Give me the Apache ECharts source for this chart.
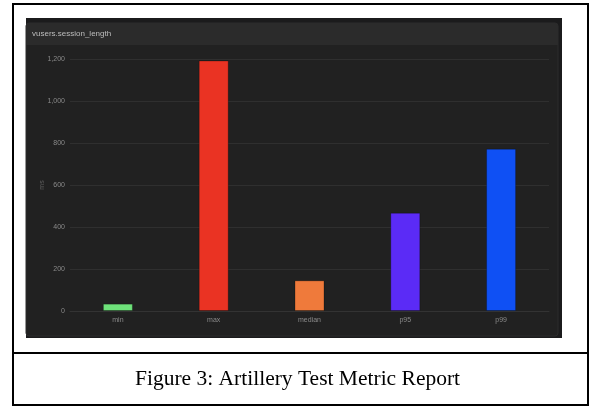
<!DOCTYPE html>
<html>
<head>
<meta charset="utf-8">
<script src="https://cdn.jsdelivr.net/npm/echarts@6/dist/echarts.min.js"></script>
<style>
  html, body { margin: 0; padding: 0; background: #fff; }
  #chart { width: 595px; height: 406px; }
</style>
</head>
<body>
<div id="chart"></div>
<script>
var categories = ['min', 'max', 'median', 'p95', 'p99'];
var values = [35, 1193, 146, 468, 773];
var barColors = ['#6ee27a', '#ea3323', '#ef7a3b', '#5b2bf6', '#0f50f4'];
var yTicks = [0, 200, 400, 600, 800, 1000, 1200];

var chart = echarts.init(document.getElementById('chart'));

var option = {
	backgroundColor: '#ffffff',
	animation: false,
	graphic: [
		// figure frame
		{ type: 'rect', shape: { x: 13, y: 4, width: 575, height: 401 }, style: { fill: 'none', stroke: '#000', lineWidth: 2 }, z: 0 },
		{ type: 'line', shape: { x1: 13, y1: 353, x2: 588, y2: 353 }, style: { stroke: '#000', lineWidth: 2 } },
		// dashboard panel
		{ type: 'rect', shape: { x: 26, y: 18, width: 536, height: 320 }, style: { fill: '#1b1b1c' }, z: -10 },
		{ type: 'rect', shape: { x: 26, y: 23, width: 532, height: 313, r: 3 }, style: { fill: '#212121', stroke: '#2c2c2c', lineWidth: 1 }, z: -9 },
		{ type: 'rect', shape: { x: 26, y: 23, width: 532, height: 22, r: [3, 3, 0, 0] }, style: { fill: '#2b2b2b' }, z: -8 },
		{ type: 'text', left: 32, top: 30, style: { text: 'vusers.session_length', fill: '#bdbdbd', font: '8px "Liberation Sans", Arial, sans-serif' } },
		// caption
		{ type: 'text', left: 'center', top: 368, style: { text: 'Figure 3: Artillery Test Metric Report', fill: '#000', font: '21.5px "Liberation Serif", "Times New Roman", serif' } }
	],
	grid: {
		left: 70,
		right: 46,
		top: 59,
		bottom: 95,
		containLabel: false
	},
	xAxis: {
		type: 'category',
		data: categories,
		axisLine: { lineStyle: { color: '#333' } },
		axisTick: { show: false },
		axisLabel: { color: '#8a8a8a', fontSize: 7, margin: 6, fontFamily: 'Liberation Sans' }
	},
	yAxis: {
		type: 'value',
		min: yTicks[0],
		max: yTicks[yTicks.length - 1],
		interval: 200,
		name: 'ms',
		nameLocation: 'middle',
		nameGap: 24,
		nameMoveOverlap: false,
		nameTextStyle: { color: '#5f5f5f', fontSize: 7, fontFamily: 'Liberation Sans' },
		axisLine: { show: false },
		axisTick: { show: false },
		splitLine: { lineStyle: { color: '#2f2f2f', width: 1 } },
		axisLabel: {
			color: '#8a8a8a',
			fontSize: 7,
			margin: 5,
			fontFamily: 'Liberation Sans',
			formatter: function (v) { return v.toLocaleString('en-US'); }
		}
	},
	series: [{
		type: 'bar',
		barWidth: 30,
		data: values.map(function (v, i) {
			return { value: v, itemStyle: { color: barColors[i], borderColor: 'rgba(0,0,0,0.25)', borderWidth: 1 } };
		})
	}]
};

chart.setOption(option);
</script>
</body>
</html>
